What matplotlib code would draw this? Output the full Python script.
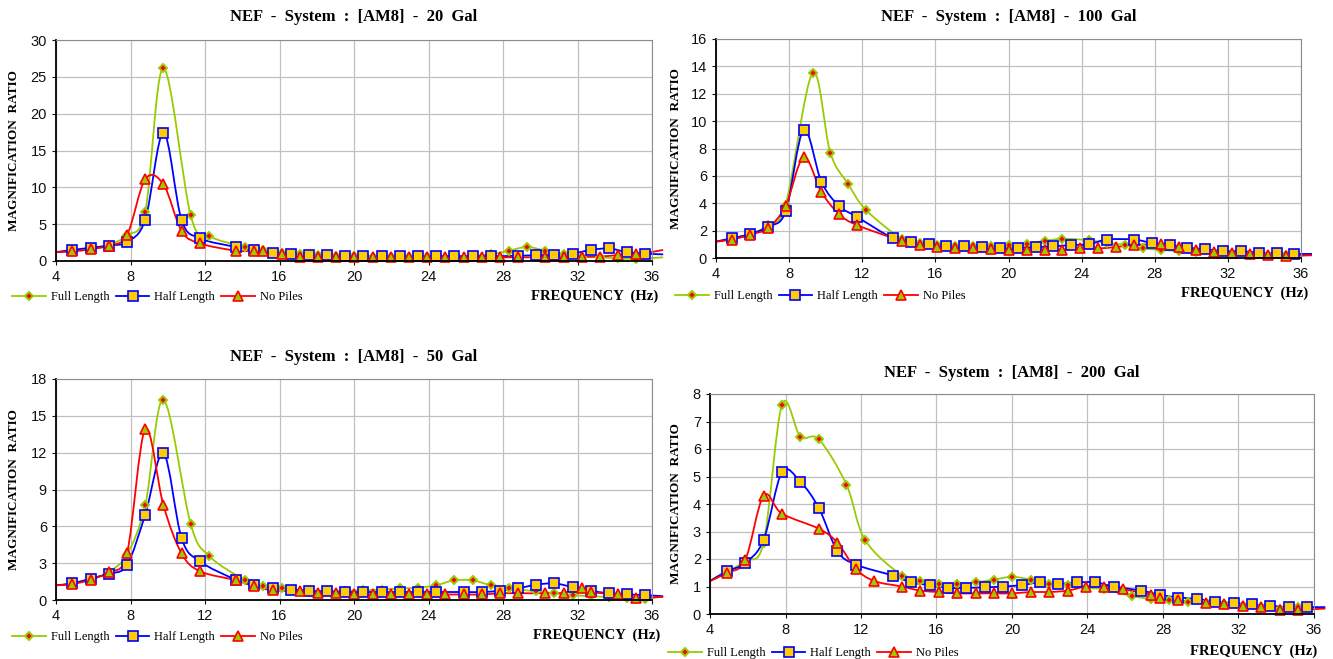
import numpy as np
import matplotlib
matplotlib.use("Agg")
import matplotlib.pyplot as plt
from matplotlib.path import Path
from matplotlib.patches import PathPatch
from matplotlib.lines import Line2D

plt.rcParams['font.family'] = ['Liberation Sans', 'DejaVu Sans']

# -----------------------------
# DATA (frequency in Hz, magnification ratio)
# -----------------------------
series_names = ["Full Length", "Half Length", "No Piles"]

# 20 Gal
g20_full_x = [4.0, 4.88, 5.86, 6.84, 7.81, 8.79, 9.77, 11.23, 12.21, 14.16, 15.14, 16.11, 17.09, 18.07, 19.04, 20.02,
              21.00, 21.97, 22.95, 23.93, 25.39, 26.37, 27.34, 28.32, 29.30, 30.27, 31.25, 32.23, 33.20, 34.18, 35.16, 36.6]
g20_full_y = [1.2, 1.4, 1.7, 2.2, 3.5, 6.7, 26.2, 6.2, 3.4, 1.9, 1.5, 1.1, 0.9, 0.8, 0.7, 0.7,
              0.6, 0.6, 0.6, 0.6, 0.7, 0.7, 0.9, 1.4, 1.9, 1.4, 0.9, 0.6, 0.5, 0.35, 0.3, 0.5]
g20_half_x = [4.0, 4.88, 5.86, 6.84, 7.81, 8.79, 9.77, 10.74, 11.72, 13.67, 14.65, 15.63, 16.60, 17.58, 18.55, 19.53, 20.51,
              21.48, 22.46, 23.44, 24.41, 25.39, 26.37, 27.34, 28.81, 29.79, 30.76, 31.74, 32.71, 33.69, 34.67, 35.64, 36.6]
g20_half_y = [1.2, 1.5, 1.8, 2.1, 2.6, 5.6, 17.4, 5.6, 3.1, 1.9, 1.5, 1.1, 1.0, 0.85, 0.8, 0.65, 0.65,
              0.65, 0.65, 0.65, 0.65, 0.65, 0.65, 0.65, 0.7, 0.8, 0.8, 1.0, 1.5, 1.7, 1.2, 1.0, 0.9]
g20_none_x = [4.0, 4.88, 5.86, 6.84, 7.81, 8.79, 9.77, 10.74, 11.72, 13.67, 14.65, 15.14, 16.11, 17.09, 18.07, 19.04, 20.02,
              21.00, 21.97, 22.95, 23.93, 24.90, 25.88, 26.86, 27.83, 28.81, 30.27, 31.25, 32.23, 33.20, 34.18, 35.16, 36.6]
g20_none_y = [1.2, 1.3, 1.6, 2.1, 3.5, 11.1, 10.4, 4.1, 2.4, 1.4, 1.4, 1.3, 0.9, 0.6, 0.6, 0.5, 0.5,
              0.5, 0.5, 0.5, 0.5, 0.5, 0.5, 0.5, 0.5, 0.5, 0.5, 0.5, 0.6, 0.6, 0.8, 0.9, 1.5]

# 100 Gal
g100_full_x = [4.0, 4.88, 5.86, 6.84, 7.81, 9.28, 10.25, 11.23, 12.21, 14.16, 15.14, 16.11, 17.09, 18.07, 19.04, 20.02,
               21.00, 21.97, 22.95, 24.41, 25.39, 26.37, 27.34, 28.32, 29.30, 30.27, 31.25, 32.23, 33.20, 34.18, 35.16, 36.6]
g100_full_y = [1.2, 1.4, 1.7, 2.4, 3.9, 13.5, 7.7, 5.4, 3.5, 1.4, 1.1, 0.95, 0.85, 0.85, 0.85, 0.95,
               1.05, 1.25, 1.4, 1.3, 1.1, 0.95, 0.7, 0.6, 0.5, 0.45, 0.35, 0.3, 0.25, 0.2, 0.2, 0.25]
g100_half_x = [4.0, 4.88, 5.86, 6.84, 7.81, 8.79, 9.77, 10.74, 11.72, 13.67, 14.65, 15.63, 16.60, 17.58, 18.55, 19.53, 20.51,
               21.48, 22.46, 23.44, 24.41, 25.39, 26.86, 27.83, 28.81, 29.79, 30.76, 31.74, 32.71, 33.69, 34.67, 35.64, 36.6]
g100_half_y = [1.2, 1.45, 1.75, 2.3, 3.4, 9.35, 5.55, 3.8, 3.0, 1.45, 1.2, 1.0, 0.9, 0.85, 0.8, 0.75, 0.75,
               0.8, 0.85, 0.95, 1.0, 1.35, 1.35, 1.1, 0.95, 0.75, 0.65, 0.5, 0.5, 0.4, 0.35, 0.3, 0.3]
g100_none_x = [4.0, 4.88, 5.86, 6.84, 7.81, 8.79, 9.77, 10.74, 11.72, 14.16, 15.14, 16.11, 17.09, 18.07, 19.04, 20.02,
               21.00, 21.97, 22.95, 23.93, 24.90, 25.88, 26.86, 28.32, 29.30, 30.27, 31.25, 32.23, 33.20, 34.18, 35.16, 36.6]
g100_none_y = [1.2, 1.35, 1.7, 2.2, 3.8, 7.35, 4.8, 3.2, 2.4, 1.25, 0.95, 0.8, 0.7, 0.7, 0.65, 0.6,
               0.6, 0.6, 0.6, 0.7, 0.7, 0.8, 0.95, 1.0, 0.8, 0.6, 0.45, 0.35, 0.3, 0.2, 0.15, 0.2]

# 50 Gal
g50_full_x = [4.0, 4.88, 5.86, 6.84, 7.81, 8.79, 9.77, 11.23, 12.21, 14.16, 15.14, 16.11, 17.58, 18.55, 19.53, 20.51,
              21.48, 22.46, 23.44, 24.41, 25.39, 26.37, 27.34, 28.32, 29.79, 30.76, 31.74, 32.71, 33.69, 34.67, 35.64, 36.6]
g50_full_y = [1.2, 1.35, 1.7, 2.3, 3.7, 7.7, 16.3, 6.2, 3.6, 1.6, 1.1, 0.95, 0.75, 0.7, 0.75, 0.8,
              0.85, 0.95, 1.0, 1.2, 1.6, 1.6, 1.2, 0.95, 0.7, 0.55, 0.4, 0.3, 0.25, 0.15, 0.1, 0.3]
g50_half_x = [4.0, 4.88, 5.86, 6.84, 7.81, 8.79, 9.77, 10.74, 11.72, 13.67, 14.65, 15.63, 16.60, 17.58, 18.55, 19.53, 20.51,
              21.48, 22.46, 23.44, 24.41, 25.88, 26.86, 27.83, 28.81, 29.79, 30.76, 31.74, 32.71, 33.69, 34.67, 35.64, 36.6]
g50_half_y = [1.2, 1.35, 1.75, 2.15, 2.85, 6.95, 11.95, 5.05, 3.15, 1.65, 1.25, 1.0, 0.85, 0.75, 0.7, 0.65, 0.65,
              0.65, 0.65, 0.65, 0.65, 0.65, 0.65, 0.75, 0.95, 1.25, 1.35, 1.05, 0.75, 0.55, 0.45, 0.4, 0.3]
g50_none_x = [4.0, 4.88, 5.86, 6.84, 7.81, 8.79, 9.77, 10.74, 11.72, 13.67, 14.65, 15.63, 17.09, 18.07, 19.04, 20.02,
              21.00, 21.97, 22.95, 23.93, 24.90, 25.88, 26.86, 27.83, 28.81, 30.27, 31.25, 32.23, 32.71, 34.18, 35.16, 36.6]
g50_none_y = [1.2, 1.3, 1.65, 2.3, 3.8, 13.9, 7.7, 3.8, 2.35, 1.6, 1.1, 0.8, 0.7, 0.6, 0.55, 0.45,
              0.45, 0.45, 0.45, 0.45, 0.45, 0.45, 0.45, 0.55, 0.55, 0.55, 0.6, 1.0, 0.65, 0.45, 0.2, 0.25]

# 200 Gal
g200_full_x = [4.0, 4.88, 5.86, 6.84, 7.81, 8.79, 9.77, 11.23, 12.21, 14.16, 15.14, 16.11, 17.09, 18.07, 19.04, 20.02,
               21.00, 21.97, 22.95, 23.93, 24.90, 26.37, 27.34, 28.32, 29.30, 30.27, 31.25, 32.23, 33.20, 34.18, 35.16, 36.6]
g200_full_y = [1.2, 1.5, 1.95, 2.6, 7.6, 6.45, 6.35, 4.7, 2.7, 1.4, 1.2, 1.1, 1.1, 1.15, 1.25, 1.35,
               1.25, 1.1, 1.05, 0.95, 0.9, 0.65, 0.55, 0.5, 0.45, 0.4, 0.35, 0.3, 0.25, 0.2, 0.25, 0.2]
g200_half_x = [4.0, 4.88, 5.86, 6.84, 7.81, 8.79, 9.77, 10.74, 11.72, 13.67, 14.65, 15.63, 16.60, 17.58, 18.55, 19.53, 20.51,
               21.48, 22.46, 23.44, 24.41, 25.39, 26.86, 27.83, 28.81, 29.79, 30.76, 31.74, 32.71, 33.69, 34.67, 35.64, 36.6]
g200_half_y = [1.2, 1.55, 1.85, 2.7, 5.15, 4.8, 3.85, 2.3, 1.8, 1.4, 1.15, 1.05, 0.95, 0.95, 0.97, 1.0, 1.05,
               1.15, 1.1, 1.15, 1.15, 1.0, 0.85, 0.7, 0.6, 0.55, 0.45, 0.4, 0.35, 0.3, 0.25, 0.25, 0.25]
g200_none_x = [4.0, 4.88, 5.86, 6.84, 7.81, 9.77, 10.74, 11.72, 12.70, 14.16, 15.14, 16.11, 17.09, 18.07, 19.04, 20.02,
               21.00, 21.97, 22.95, 23.93, 24.90, 25.88, 27.34, 27.83, 28.81, 30.27, 31.25, 32.23, 33.20, 34.18, 35.16, 36.6]
g200_none_y = [1.2, 1.5, 1.95, 4.3, 3.65, 3.1, 2.6, 1.65, 1.2, 1.0, 0.85, 0.8, 0.75, 0.75, 0.75, 0.75,
               0.8, 0.8, 0.85, 1.0, 1.0, 0.9, 0.7, 0.6, 0.5, 0.4, 0.35, 0.3, 0.25, 0.15, 0.15, 0.2]

x_ticks = [4, 8, 12, 16, 20, 24, 28, 32, 36]

# -----------------------------
# STYLE
# -----------------------------
GREEN = "#99CC00"
BLUE = "#0000FF"
RED = "#FF0000"
GOLD = "#FFCC00"
line_colors = [GREEN, BLUE, RED]
marker_style = [
    dict(marker="D", markersize=4.5, markerfacecolor=RED, markeredgecolor=GREEN, markeredgewidth=1.4),
    dict(marker="s", markersize=6.5, markerfacecolor=GOLD, markeredgecolor=BLUE, markeredgewidth=1.2),
    dict(marker="^", markersize=7, markerfacecolor=GREEN, markeredgecolor=RED, markeredgewidth=1.2),
]
SERIF = "Liberation Serif"
W, H = 1333, 659


def smooth_path(x, y):
    # Excel-like smoothed line drawn as cubic Bezier segments through the points
    pts = np.column_stack([x, y])
    n = len(pts)
    verts = [pts[0]]
    codes = [Path.MOVETO]
    for i in range(n - 1):
        p0 = pts[max(i - 1, 0)]
        p1 = pts[i]
        p2 = pts[i + 1]
        p3 = pts[min(i + 2, n - 1)]
        verts += [p1 + (p2 - p0) / 6, p2 - (p3 - p1) / 6, p2]
        codes += [Path.CURVE4] * 3
    return Path(verts, codes)


def panel(box, title, data, ymax, ystep, legend_xy, freq_xy, title_y, ylab_x):
    left, right, top, bottom = box
    ax = fig.add_axes([left / W, 1 - bottom / H, (right - left) / W, (bottom - top) / H])
    ax.set_xlim(4, 36)
    ax.set_ylim(0, ymax)
    ax.set_xticks(x_ticks)
    ax.set_yticks(np.arange(0, ymax + ystep / 2, ystep))
    ax.grid(True, color="#C0C0C0", lw=0.9)
    ax.set_axisbelow(True)
    for s in ["top", "right"]:
        ax.spines[s].set_color("#8C8C8C")
    for s in ["left", "bottom"]:
        ax.spines[s].set_linewidth(1.3)
    ax.tick_params(direction="out", length=3, labelsize=10.5, colors="#111111")

    for (xs, ys), col, ms in zip(data, line_colors, marker_style):
        ax.add_patch(PathPatch(smooth_path(xs, ys), fill=False, edgecolor=col, lw=1.3, clip_on=False))
        ax.plot(xs[1:-1], ys[1:-1], linestyle="none", clip_on=False, **ms)

    fig.text((left + right) / 2 / W, 1 - title_y / H, title, ha="center", va="center",
             family=SERIF, weight="bold", fontsize=12)
    fig.text(ylab_x / W, 1 - (top + bottom) / 2 / H, "MAGNIFICATION  RATIO", rotation=90,
             ha="center", va="center", family=SERIF, weight="bold", fontsize=9.5)
    fig.text(freq_xy[0] / W, 1 - freq_xy[1] / H, "FREQUENCY  (Hz)", ha="right", va="center",
             family=SERIF, weight="bold", fontsize=10.5)
    handles = [Line2D([], [], color=c, lw=1.3, **m) for c, m in zip(line_colors, marker_style)]
    fig.legend(handles, series_names, loc="center left",
               bbox_to_anchor=(legend_xy[0] / W, 1 - legend_xy[1] / H), ncol=3, frameon=False,
               handlelength=2.7, handletextpad=0.4, columnspacing=0.5, borderaxespad=0, borderpad=0,
               prop={"family": SERIF, "size": 9})
    return ax


fig = plt.figure(figsize=(W / 100, H / 100), dpi=100)

panel((56, 652, 40, 261), "NEF  -  System  :  [AM8]  -  20  Gal",
      [(g20_full_x, g20_full_y), (g20_half_x, g20_half_y), (g20_none_x, g20_none_y)],
      30, 5, (12, 297), (658, 296), 17, 14)
panel((716, 1301, 39, 258), "NEF  -  System  :  [AM8]  -  100  Gal",
      [(g100_full_x, g100_full_y), (g100_half_x, g100_half_y), (g100_none_x, g100_none_y)],
      16, 2, (675, 296), (1308, 293), 17, 676)
panel((56, 652, 379, 600), "NEF  -  System  :  [AM8]  -  50  Gal",
      [(g50_full_x, g50_full_y), (g50_half_x, g50_half_y), (g50_none_x, g50_none_y)],
      18, 3, (12, 637), (660, 635), 357, 14)
panel((710, 1314, 394, 614), "NEF  -  System  :  [AM8]  -  200  Gal",
      [(g200_full_x, g200_full_y), (g200_half_x, g200_half_y), (g200_none_x, g200_none_y)],
      8, 1, (668, 653), (1317, 651), 373, 676)

fig.savefig("out.png", dpi=100)
